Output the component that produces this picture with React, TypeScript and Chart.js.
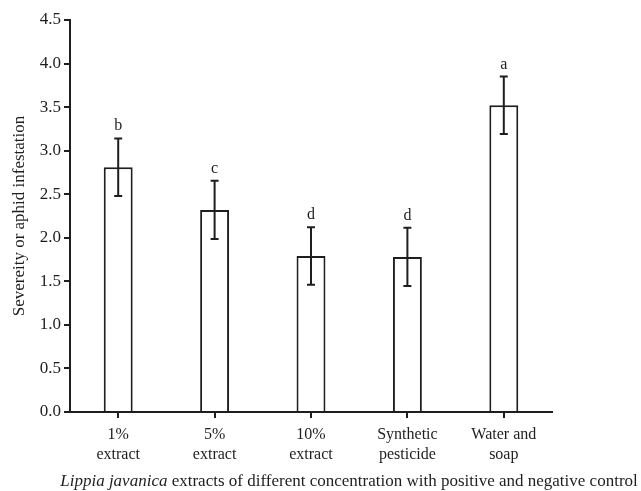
import React, { useEffect, useRef } from "react";
import { Chart, registerables } from "chart.js";

Chart.register(...registerables);

const categories: string[][] = [
  ["1%", "extract"],
  ["5%", "extract"],
  ["10%", "extract"],
  ["Synthetic", "pesticide"],
  ["Water and", "soap"],
];
const means: number[] = [2.81, 2.32, 1.79, 1.78, 3.52];
const errors: number[] = [0.33, 0.335, 0.33, 0.335, 0.33];
const letters: string[] = ["b", "c", "d", "d", "a"];
const yTitle = "Severeity or aphid infestation";
const xTitleItalic = "Lippia javanica";
const xTitleRest = " extracts of different concentration with positive and negative control";

const FONT = '"Liberation Serif", "Times New Roman", serif';
const INK = "#1e1e1e";

const errorBarPlugin = {
  id: "errorBars",
  afterDatasetsDraw(chart: any) {
    const ctx = chart.ctx;
    const meta = chart.getDatasetMeta(0);
    const y = chart.scales.y;
    ctx.save();
    ctx.strokeStyle = INK;
    ctx.lineWidth = 2;
    ctx.fillStyle = INK;
    ctx.font = `16px ${FONT}`;
    ctx.textAlign = "center";
    ctx.textBaseline = "alphabetic";
    meta.data.forEach((bar: any, i: number) => {
      const x = bar.x;
      const top = y.getPixelForValue(means[i] + errors[i]);
      const bot = y.getPixelForValue(means[i] - errors[i]);
      const cap = 4;
      ctx.beginPath();
      ctx.moveTo(x, top);
      ctx.lineTo(x, bot);
      ctx.moveTo(x - cap, top);
      ctx.lineTo(x + cap, top);
      ctx.moveTo(x - cap, bot);
      ctx.lineTo(x + cap, bot);
      ctx.stroke();
      ctx.fillText(letters[i], x, top - 8);
    });
    ctx.restore();
  },
};

const xTitlePlugin = {
  id: "xTitle",
  afterDraw(chart: any) {
    const ctx = chart.ctx;
    ctx.save();
    ctx.fillStyle = INK;
    ctx.textBaseline = "alphabetic";
    ctx.textAlign = "left";
    const italicFont = `italic 17px ${FONT}`;
    const normalFont = `17px ${FONT}`;
    ctx.font = italicFont;
    const w1 = ctx.measureText(xTitleItalic).width;
    ctx.font = normalFont;
    const w2 = ctx.measureText(xTitleRest).width;
    const cx = 349;
    const start = cx - (w1 + w2) / 2;
    const yy = 486;
    ctx.font = italicFont;
    ctx.fillText(xTitleItalic, start, yy);
    ctx.font = normalFont;
    ctx.fillText(xTitleRest, start + w1, yy);
    ctx.restore();
  },
};

export default function App() {
  const ref = useRef<HTMLCanvasElement | null>(null);
  useEffect(() => {
    if (!ref.current) return;
    const chart = new Chart(ref.current, {
      type: "bar",
      data: {
        labels: categories,
        datasets: [
          {
            data: means,
            backgroundColor: "#ffffff",
            borderColor: INK,
            borderWidth: 2,
            barPercentage: 0.3,
            categoryPercentage: 1,
          },
        ],
      },
      options: {
        animation: false,
        responsive: true,
        maintainAspectRatio: false,
        layout: { padding: { top: 20, right: 89, left: 0, bottom: 0 } },
        plugins: { legend: { display: false }, tooltip: { enabled: false } },
        scales: {
          x: {
            offset: true,
            grid: {
              offset: false,
              drawOnChartArea: false,
              drawTicks: true,
              tickLength: 6,
              color: INK,
              lineWidth: 2,
            },
            border: { color: INK, width: 2 },
            ticks: {
              color: INK,
              font: { family: FONT, size: 16, lineHeight: 1.25 },
              padding: 7,
              maxRotation: 0,
              autoSkip: false,
            },
            afterFit(scale: any) {
              scale.height = 79;
            },
          },
          y: {
            min: 0,
            max: 4.5,
            ticks: {
              stepSize: 0.5,
              color: INK,
              font: { family: FONT, size: 17 },
              padding: 3,
              callback: (v: any) => Number(v).toFixed(1),
            },
            grid: {
              drawOnChartArea: false,
              drawTicks: true,
              tickLength: 6,
              color: INK,
              lineWidth: 2,
            },
            border: { color: INK, width: 2 },
            title: {
              display: true,
              text: yTitle,
              color: INK,
              font: { family: FONT, size: 17 },
              padding: { top: 9, bottom: 0 },
            },
            afterFit(scale: any) {
              scale.width = 70;
            },
          },
        },
      },
      plugins: [errorBarPlugin, xTitlePlugin],
    });
    return () => chart.destroy();
  }, []);
  return (
    <div style={{ position: "absolute", left: 0, top: 0, width: 641, height: 491, background: "#fff" }}>
      <canvas ref={ref} />
    </div>
  );
}
